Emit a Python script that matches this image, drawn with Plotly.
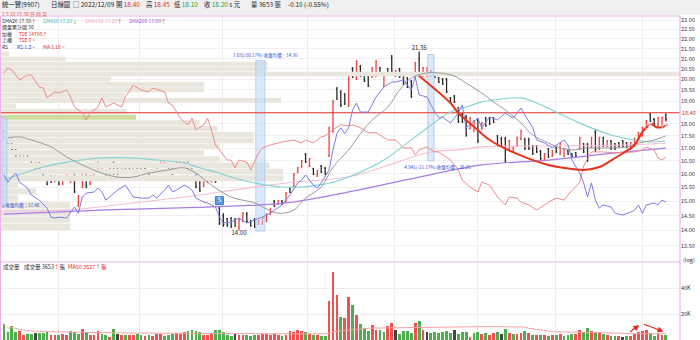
import math
import pandas as pd
import plotly.graph_objects as go

# ---------------- data ----------------
opens = [17.70,17.25,17.20,17.05,16.58,16.65,16.80,16.60,16.10,16.40,16.10,15.85,15.90,15.72,15.80,15.62,15.80,15.68,16.10,14.85,
         15.50,16.02,15.62,15.88,16.08,16.18,16.04,15.98,16.45,16.22,16.05,16.24,16.32,16.18,16.32,16.30,16.20,16.08,16.01,16.10,
         16.37,16.38,16.40,16.22,16.28,16.36,16.38,16.55,16.22,16.02,15.80,15.54,15.68,15.71,15.85,
         14.75,14.50,14.38,14.40,14.35,14.08,14.32,14.55,14.32,14.38,14.20,14.22,14.32,14.55,15.00,14.89,15.00,15.00,15.48,15.55,
         16.05,16.26,16.75,16.30,16.20,15.92,16.30,16.22,16.70,17.70,19.55,19.40,19.30,18.80,20.50,20.05,20.60,20.25,20.15,20.10,
         20.15,20.55,19.70,20.50,21.05,20.15,20.50,20.25,20.05,19.90,20.10,21.00,20.15,20.15,20.15,20.28,20.08,20.02,20.00,
         19.15,19.22,18.68,18.42,18.30,17.80,17.70,18.15,17.78,18.25,18.25,18.26,17.50,17.40,17.38,16.97,16.84,17.08,17.38,17.38,
         17.35,17.10,17.08,16.88,16.56,16.96,16.68,17.02,16.77,16.68,16.90,16.78,16.82,16.97,17.18,17.15,17.05,17.65,16.97,17.42,
         17.08,17.30,17.18,17.22,17.30,17.22,16.97,17.08,17.36,17.50,17.78,18.42,18.20,17.92,17.90,18.40]
highs = [17.79,17.29,17.25,17.13,16.81,16.85,16.85,16.65,16.45,16.45,16.15,15.88,15.96,15.96,15.85,15.85,16.15,15.85,16.15,15.22,
         16.15,16.07,15.96,16.07,16.53,16.42,16.07,16.23,16.53,16.26,16.23,16.26,16.34,16.42,16.34,16.34,16.23,16.11,16.11,16.42,
         16.61,16.57,16.42,16.26,16.45,16.53,16.53,16.61,16.26,16.07,15.88,15.77,15.85,15.88,15.88,
         14.80,14.58,14.42,14.45,14.42,14.42,14.62,14.62,14.35,14.42,14.35,14.45,14.58,14.76,15.04,15.04,15.04,15.33,15.51,16.03,
         16.26,16.53,16.81,16.61,16.23,16.15,16.34,16.26,17.88,19.05,19.64,19.50,19.36,20.30,20.59,20.93,20.69,20.30,20.20,20.59,
         20.93,20.59,20.20,20.54,21.18,20.44,20.54,20.30,20.11,19.97,20.83,21.35,20.59,20.59,20.44,20.30,20.11,20.06,20.06,
         19.18,19.27,18.73,18.47,18.38,18.30,18.17,18.25,18.08,18.30,18.30,18.30,17.54,17.46,17.46,17.33,17.05,17.46,17.75,17.42,
         17.42,17.13,17.13,16.93,16.81,17.01,16.93,17.05,17.21,17.01,16.93,16.81,16.85,17.46,17.21,17.21,17.46,17.75,17.46,17.46,
         17.33,17.33,17.21,17.25,17.33,17.25,17.25,17.42,17.67,17.88,18.17,18.47,18.25,18.30,18.30,18.45]
lows = [17.21,16.97,16.89,16.61,16.53,16.61,16.53,16.34,16.03,16.03,15.88,15.58,15.66,15.69,15.58,15.58,15.77,15.66,15.29,14.80,
        15.47,15.47,15.58,15.85,16.03,16.15,15.85,15.96,15.96,15.96,16.03,16.07,16.15,16.15,16.15,16.03,16.07,15.96,16.00,16.07,
        16.34,16.34,16.19,15.96,16.26,16.34,16.34,16.15,16.03,15.47,15.33,15.51,15.66,15.69,15.66,
        14.18,14.12,14.12,14.08,14.12,14.00,14.28,14.25,14.12,14.08,14.18,14.18,14.28,14.52,14.80,14.87,14.87,14.97,15.29,15.51,
        16.03,16.23,16.42,16.26,15.96,15.88,16.03,15.96,16.65,17.63,19.05,18.73,18.82,18.73,20.06,19.97,20.11,19.87,19.64,20.06,
        20.11,20.20,19.64,20.20,20.30,20.11,20.06,19.73,19.59,19.14,20.06,20.11,20.11,20.11,20.11,20.06,19.82,19.73,19.36,
        18.91,18.91,18.04,18.04,17.46,17.75,17.67,17.21,17.75,17.88,17.96,18.04,17.05,17.05,16.42,16.93,16.81,17.05,17.33,16.93,
        16.93,16.73,16.81,16.53,16.53,16.61,16.65,16.81,16.73,16.65,16.73,16.61,16.65,16.93,16.81,16.45,17.01,16.85,16.93,17.05,
        17.05,16.93,16.93,17.05,17.05,17.01,16.93,17.05,17.33,17.46,17.75,18.08,17.96,17.88,17.84,18.10]
closes = [17.35,17.02,16.95,16.70,16.77,16.80,16.58,16.40,16.40,16.08,15.92,15.62,15.70,15.92,15.62,15.80,16.10,15.82,15.35,15.18,
          16.10,15.52,15.92,16.04,16.48,16.38,15.88,16.20,16.00,16.00,16.20,16.10,16.18,16.40,16.18,16.06,16.09,15.98,16.09,16.38,
          16.58,16.55,16.22,16.00,16.43,16.50,16.52,16.20,16.06,15.52,15.38,15.74,15.82,15.86,15.70,
          14.25,14.20,14.18,14.15,14.15,14.35,14.58,14.30,14.15,14.12,14.32,14.42,14.55,14.73,14.84,15.02,14.90,15.30,15.32,16.00,
          16.24,16.50,16.46,16.58,16.00,16.12,16.06,16.00,17.85,19.00,19.10,18.80,18.88,20.25,20.10,20.85,20.15,19.92,19.70,20.55,
          20.85,20.25,20.15,20.25,20.40,20.40,20.10,19.80,19.65,19.20,20.78,20.20,20.55,20.55,20.40,20.10,19.86,19.78,19.42,
          18.95,18.95,18.10,18.08,17.55,18.25,18.12,17.30,18.05,17.92,18.00,18.08,17.10,17.10,16.50,17.30,17.02,17.42,17.70,16.98,
          17.00,16.78,16.85,16.58,16.78,16.65,16.90,16.85,17.18,16.98,16.76,16.65,16.68,17.42,16.85,16.55,17.42,16.95,17.42,17.10,
          17.30,16.98,16.97,17.08,17.08,17.04,17.22,17.38,17.63,17.85,18.13,18.12,18.00,18.26,18.30,18.20]
volumes = [12000,6000,10800,6000,7000,3800,4600,4600,5600,5600,5600,5900,3800,3800,3800,4600,3800,7000,5900,4600,
           8500,5900,3800,3800,7000,4600,3800,2600,8200,4600,4000,3500,3500,3500,4500,4000,3000,3500,3000,5000,
           5000,3000,4000,5000,5500,5000,6000,7000,7500,7000,6000,4000,3500,4500,7500,
           8000,6000,4000,3000,4500,3500,3500,3500,3000,3500,4000,4500,5000,4000,4500,3500,3000,4000,7000,6000,
           8000,7000,6500,5000,3500,4000,3000,3000,30000,52000,35000,18000,17000,33000,27000,19000,12000,9500,7000,11500,
           7700,7700,6500,11000,13000,7700,4400,7000,7000,5600,13000,14600,8000,5900,5100,6400,5100,6400,6900,
           5100,7700,4400,5900,6400,2600,5100,6400,4400,5100,3800,5100,6400,4400,8500,5100,4400,4400,5100,6900,
           5100,3800,3800,3800,3800,3300,3800,3800,4400,3300,3800,4400,4400,7700,5900,9500,6900,5900,5100,4400,
           3800,3300,3100,2800,2600,2800,3100,4400,5900,6900,7700,5100,3300,5100,3800,3653]

# moving averages (bar index, price)
sma20_x = [1,4,7,12,16,20,25,29,33,37,42,46,49,53,58,64,66,70,74,77,81,84,88,91,94,98,101,104,108,111,115,118,122,125,128,132,135,139,142,145,149,152,155,159,162,166,169]
sma20_y = [17.42,17.46,17.33,17.05,16.65,16.34,16.03,15.88,15.88,16.03,16.15,16.23,16.03,15.58,15.15,14.94,14.80,14.58,14.69,15.11,15.51,16.26,16.93,17.59,18.17,18.73,19.50,20.06,20.30,20.30,20.15,19.82,19.36,18.96,18.60,18.04,17.54,17.21,17.01,16.93,17.01,17.01,17.01,17.05,17.21,17.33,17.50]
sma50_x = [0,10,16,25,33,39,46,50,54,58,63,67,71,76,80,84,88,97,105,114,118,122,127,132,136,141,148,155,161,165,169]
sma50_y = [15.77,16.26,16.45,16.61,16.61,16.53,16.42,16.23,16.07,15.88,15.69,15.58,15.51,15.51,15.58,15.69,15.88,16.53,17.46,18.51,18.73,18.96,19.09,19.14,18.91,18.51,17.96,17.54,17.33,17.25,17.29]
sma150_x = [0,16,33,50,55,72,89,109,116,122,139,156,169]
sma150_y = [14.66,14.69,14.94,15.22,15.33,15.66,15.92,16.85,16.93,17.05,17.09,17.12,17.20]
sma200_x = [0,25,53,72,89,106,122,139,156,169]
sma200_y = [14.55,14.69,14.80,14.94,15.36,15.88,16.34,16.53,16.81,17.00]

# TSE index overlay (red) and RS line (blue), plotted on the price scale
tse_x = [0,1,2,4,6,7,9,10,11,13,14,16,17,18,20,21,22,24,25,26,28,30,31,33,35,37,38,41,42,43,45,47,48,49,51,52,53,54,56,57,58,59,60,62,63,65,66,68,70,71,74,76,77,79,81,82,84,86,88,89,91,93,95,98,100,102,104,105,106,108,110,111,114,116,117,119,121,122,124,126,128,129,131,132,134,136,138,139,141,143,144,146,147,148,150,153,156,161,163,164,166,167,168,169]
tse_y = [20.30,20.54,20.44,19.97,20.20,20.20,19.64,19.59,19.14,19.41,19.36,19.50,19.18,18.73,18.47,18.17,18.47,18.73,19.14,18.73,18.91,18.73,19.18,19.73,19.50,19.41,19.59,19.41,18.91,18.82,18.25,17.96,18.25,17.75,17.96,18.25,17.71,17.13,16.73,16.53,16.53,16.23,16.53,16.45,16.15,16.81,17.01,17.13,17.21,17.25,17.33,17.21,17.33,17.21,17.46,17.50,17.75,17.96,17.92,17.96,17.84,17.63,17.63,17.33,17.33,17.01,17.01,16.73,16.93,17.05,16.85,16.85,16.53,16.15,15.77,15.51,15.33,15.69,15.58,15.15,14.87,15.15,15.11,14.97,14.87,14.69,14.87,14.97,15.11,15.04,15.22,15.51,15.69,16.30,16.85,16.85,16.81,16.85,16.93,17.05,16.93,16.61,16.53,16.65]
rs_x = [0,1,2,3,4,6,7,9,11,12,13,14,16,17,18,19,20,21,23,24,25,26,28,29,31,33,35,37,38,39,41,42,43,44,46,47,48,49,51,52,53,54,55,56,58,60,62,64,66,68,70,71,73,75,76,77,79,80,81,83,84,85,86,87,88,89,90,91,93,94,95,97,99,100,102,104,105,106,108,109,111,112,114,116,117,118,121,122,124,126,128,130,132,133,135,136,138,140,143,144,145,147,148,149,150,151,152,153,155,156,158,160,161,162,163,164,166,167,168,169]
rs_y = [15.96,15.69,15.88,16.03,15.69,15.47,15.22,15.04,14.76,14.45,14.42,14.45,14.42,14.62,14.80,14.58,15.15,15.29,15.33,15.47,15.33,15.04,15.29,15.40,15.58,15.15,15.11,15.11,15.22,15.11,15.40,15.58,15.33,15.40,15.58,15.51,15.40,15.11,14.97,14.94,14.87,14.80,14.45,14.25,14.28,14.42,14.25,14.35,14.45,14.58,14.76,14.87,15.22,15.66,15.77,15.96,15.58,15.47,15.66,16.15,16.93,17.59,17.84,17.59,17.84,18.60,18.91,18.51,18.51,18.82,19.18,19.64,19.87,19.87,19.97,19.50,20.10,19.27,19.18,18.82,18.25,18.30,18.04,18.47,18.82,17.84,18.25,17.84,18.30,18.17,18.47,18.25,18.69,18.38,17.84,17.33,17.21,17.01,17.33,17.13,16.53,16.03,15.66,15.15,15.66,15.04,14.76,14.87,14.80,14.58,14.52,14.62,14.69,14.87,14.58,14.87,14.94,14.87,15.04,14.97]

# volume-by-price profile (30 bins from 14.00 to 21.35), thousand lots
profile_lo, profile_hi = 14.00, 21.35
profile_vol = [31,31,31,31,8,16,8,125,125,119,97,90,97,112,112,96,88,60,56,7,124,55,90,90,49,300,118,118,29,4]
profile_current_bin = 17

# cup pattern drawing (bar index, price)
cup_x = [106,114,116,120,124,131,139,148,152,156,161,163,165]
cup_y = [20.15,18.91,18.47,17.88,17.33,16.77,16.34,16.15,16.26,16.61,17.13,17.67,18.02]
hook_x = [165.3,166.6,168.0,169.4]
hook_y = [18.02,17.86,17.86,17.98]

price_ticks = [13.5,14.0,14.5,15.0,15.5,16.0,16.5,17.0,17.5,18.0,18.5,19.0,19.5,20.0,20.5,21.0,21.5,22.0,22.5,23.0]
month_lines = [13.8,34.7,55.9,77.6,99.8,120.8,140.9,163.1]
resist_price = 18.48

# ---------------- layout constants ----------------
W, H = 700, 340
FONT = "Noto Sans CJK TC, Noto Sans, sans-serif"
PLOT_R = 680
MAIN_TOP, MAIN_BOT = 16, 262
XMIN, XMAX = -1.02, 172.6
idx = list(range(len(closes)))

def py(p):
    return 1 - p / H

fig = go.Figure()

# volume profile
step = (profile_hi - profile_lo) / len(profile_vol)
pmax = max(profile_vol)
gx, gy, hx, hy = [], [], [], []
for k, v in enumerate(profile_vol):
    lo = profile_lo + k * step + 0.012
    hi = profile_lo + (k + 1) * step - 0.012
    x1 = XMIN + v / pmax * (XMAX - XMIN)
    xs = [XMIN, x1, x1, XMIN, XMIN, None]
    ys = [lo, lo, hi, hi, lo, None]
    if k == profile_current_bin:
        hx += xs; hy += ys
    else:
        gx += xs; gy += ys
fig.add_trace(go.Scatter(x=gx, y=gy, fill='toself', fillcolor='#e9e6de', line=dict(width=0), mode='lines', hoverinfo='skip'))
fig.add_trace(go.Scatter(x=hx, y=hy, fill='toself', fillcolor='#cddc9c', line=dict(width=0), mode='lines', hoverinfo='skip'))

# measurement bands
bands = [(-0.5, 0.75, 14.82, 18.25), (64.3, 66.6, 13.98, 20.90), (108.2, 109.8, 16.50, 21.20)]
for x0, x1, lo, hi in bands:
    fig.add_trace(go.Scatter(x=[x0, x1, x1, x0, x0], y=[lo, lo, hi, hi, lo], fill='toself',
                             fillcolor='rgba(190,215,245,0.55)', line=dict(width=0.8, color='#a9c8ee'),
                             mode='lines', hoverinfo='skip'))

# resistance line
fig.add_trace(go.Scatter(x=[XMIN, XMAX], y=[resist_price, resist_price], mode='lines',
                         line=dict(color='#e8302a', width=1), hoverinfo='skip'))

# moving averages
fig.add_trace(go.Scatter(x=sma200_x, y=sma200_y, mode='lines', line=dict(color='#a77ce6', width=1.2, shape='spline')))
fig.add_trace(go.Scatter(x=sma150_x, y=sma150_y, mode='lines', line=dict(color='#f4bdd6', width=1.1, shape='spline')))
fig.add_trace(go.Scatter(x=sma50_x, y=sma50_y, mode='lines', line=dict(color='#7fd3d3', width=1.1, shape='spline')))
fig.add_trace(go.Scatter(x=sma20_x, y=sma20_y, mode='lines', line=dict(color='#9a9a9a', width=1.0, shape='spline')))

# TSE and RS overlays
fig.add_trace(go.Scatter(x=tse_x, y=tse_y, mode='lines', line=dict(color='#f08a8a', width=1)))
fig.add_trace(go.Scatter(x=rs_x, y=rs_y, mode='lines', line=dict(color='#7b7be6', width=1)))

# price bars
fig.add_trace(go.Ohlc(x=idx, open=opens, high=highs, low=lows, close=closes,
                      increasing=dict(line=dict(color='#ef4343', width=1.3)),
                      decreasing=dict(line=dict(color='#2a2a2a', width=1.3)),
                      tickwidth=0.25, hoverinfo='skip'))

# cup drawing
fig.add_trace(go.Scatter(x=cup_x, y=cup_y, mode='lines+markers',
                         line=dict(color='#e8321e', width=2, shape='spline', smoothing=0.8),
                         marker=dict(symbol='arrow', angleref='previous', color='#e8321e',
                                     size=[0] * (len(cup_x) - 1) + [7])))
fig.add_trace(go.Scatter(x=hook_x, y=hook_y, mode='lines+markers',
                         line=dict(color='#e8321e', width=2, shape='spline'),
                         marker=dict(symbol='arrow', angleref='previous', color='#e8321e',
                                     size=[0] * (len(hook_x) - 1) + [6])))

# high / low labels and ex-dividend badge
hi_i = max(idx, key=lambda i: highs[i])
lo_i = min(idx, key=lambda i: lows[i])
fig.add_trace(go.Scatter(x=[hi_i], y=[highs[hi_i]], mode='text', text=[f"{highs[hi_i]:.2f}"],
                         textposition='top center', textfont=dict(size=6, color='#222', family=FONT)))
fig.add_trace(go.Scatter(x=[lo_i], y=[lows[lo_i]], mode='text', text=[f"{lows[lo_i]:.2f}"],
                         textposition='bottom center', textfont=dict(size=6, color='#222', family=FONT)))
fig.add_trace(go.Scatter(x=[55], y=[15.02], mode='markers+text', text=['S'], textposition='middle center',
                         marker=dict(symbol='square', size=8, color='#5b9ee0', line=dict(width=1, color='#3a7cc8')),
                         textfont=dict(size=6, color='white', family=FONT)))

# volume
vcolors = []
for i, c in enumerate(closes):
    prev = closes[i - 1] if i > 0 else opens[0]
    vcolors.append('#f05050' if c > prev else ('#4cae4c' if c < prev else '#444444'))
fig.add_trace(go.Bar(x=idx, y=volumes, marker=dict(color=vcolors, line=dict(width=0)), width=0.72,
                     xaxis='x2', yaxis='y2', hoverinfo='skip'))
vma = pd.Series(volumes).rolling(50, min_periods=1).mean()
fig.add_trace(go.Scatter(x=idx, y=vma, mode='lines', line=dict(color='#f5a3a3', width=1),
                         xaxis='x2', yaxis='y2', hoverinfo='skip'))

# ---------------- axes ----------------
xdom = [0, PLOT_R / W]
main_dom = [py(MAIN_BOT), py(MAIN_TOP)]
vol_dom = [0, py(MAIN_BOT)]
top_price = 23 * math.exp(4 / 424)
bot_price = 23 * math.exp(-242 / 424)

fig.update_layout(
    width=W, height=H, margin=dict(l=0, r=0, t=0, b=0),
    paper_bgcolor='white', plot_bgcolor='white', showlegend=False,
    font=dict(family=FONT, size=6, color='#333'),
    xaxis=dict(domain=xdom, range=[XMIN, XMAX], tickvals=month_lines, showticklabels=False,
               showgrid=True, gridcolor='#ececec', gridwidth=1, zeroline=False, ticks='',
               rangeslider=dict(visible=False), anchor='y'),
    yaxis=dict(domain=main_dom, type='log', range=[math.log10(bot_price), math.log10(top_price)],
               side='right', tickvals=price_ticks, ticktext=[f"{v:.2f}" for v in price_ticks],
               showgrid=True, gridcolor='#f0f0f0', zeroline=False, ticks='',
               tickfont=dict(size=5.5, color='#333'), anchor='x'),
    xaxis2=dict(domain=xdom, range=[XMIN, XMAX], matches='x', tickvals=month_lines, showticklabels=False,
                showgrid=True, gridcolor='#ececec', zeroline=False, ticks='', anchor='y2'),
    yaxis2=dict(domain=vol_dom, range=[0, 60000], side='right', tickvals=[20000, 40000],
                ticktext=['20K', '40K'], showgrid=True, gridcolor='#eeeeee', zeroline=False, ticks='',
                tickfont=dict(size=5.5, color='#333'), anchor='x2'),
    bargap=0,
)

shapes = []
shapes.append(dict(type='rect', xref='paper', yref='paper', x0=0, x1=1, y0=py(15), y1=1,
                   fillcolor='#f0f0f0', line=dict(width=0), layer='below'))
pink = '#e9b3e9'
shapes.append(dict(type='line', xref='paper', yref='paper', x0=0, x1=PLOT_R / W, y0=py(MAIN_TOP), y1=py(MAIN_TOP), line=dict(color=pink, width=1.2)))
shapes.append(dict(type='line', xref='paper', yref='paper', x0=0, x1=PLOT_R / W, y0=py(MAIN_BOT), y1=py(MAIN_BOT), line=dict(color=pink, width=1.2)))
shapes.append(dict(type='line', xref='paper', yref='paper', x0=PLOT_R / W, x1=PLOT_R / W, y0=0, y1=py(MAIN_TOP), line=dict(color=pink, width=1.2)))
shapes.append(dict(type='line', xref='paper', yref='paper', x0=0.5 / W, x1=0.5 / W, y0=0, y1=py(MAIN_TOP), line=dict(color=pink, width=1)))
fig.update_layout(shapes=shapes)

ann = []
def txt(px, pyy, s, color='#333', size=6, anchor='left', yanchor='middle'):
    ann.append(dict(x=px / W, y=py(pyy), xref='paper', yref='paper', text=s, showarrow=False, align='left',
                    font=dict(size=size, color=color, family=FONT), xanchor=anchor, yanchor=yanchor, borderpad=0))

RED, GRN = '#e8251f', '#1e9e2e'
def sp(s, c):
    return f'<span style="color:{c}">{s}</span>'
NB = '&nbsp;'

# header
HF = 6.4
txt(1, 4.6, '統一實(9907)', '#222', HF)
txt(50, 4.6, '日線圖', '#222', HF)
txt(72, 4.6, '□ 2022/12/09', '#222', HF)
txt(115, 4.6, '開 ' + sp('18.40', RED), '#222', HF)
txt(145, 4.6, '高 ' + sp('18.45', RED), '#222', HF)
txt(173, 4.6, '低 ' + sp('18.10', GRN), '#222', HF)
txt(203, 4.6, '收 ' + sp('18.20', GRN) + ' s 元', '#222', HF)
txt(250, 4.6, '量 3653 張', '#222', HF)
txt(287, 4.6, '-0.10 (-0.55%)', '#222', HF)

# legend block (one multi-line text)
legend_lines = [
    sp('1 5 10 15 30 日 周 月', '#e65a5a'),
    'SMA20 17.50' + sp('↑', RED) + NB * 6 + sp('SMA50 17.29', '#3cbcbc') + sp('↓', GRN) + NB * 7
    + sp('SMA150 17.20', '#f0a0c8') + sp('↑', RED) + NB * 6 + sp('SMA200 17.00', '#9a4de0') + sp('↑', RED),
    '價量累計圖 30',
    '加權' + NB * 6 + sp('TSE 14705↑', RED),
    '上櫃' + NB * 6 + sp('TSE 0 =', RED),
    'RS' + NB * 8 + sp('RS 1.2 =', '#3a3ae0') + NB * 7 + sp('MA 1.18 =', RED),
]
txt(1, 8.6, '<br>'.join(legend_lines), '#333', 5, yanchor='top')

# band captions
txt(232, 56, '7.03$(50.17%) 收盤均價：14.36', '#2a50d0', 4.5)
txt(402, 167, '-4.94$(-21.17%) 收盤均價：20.25', '#2a50d0', 4.5)
txt(0, 205, '↓收盤均價：17.48', '#2a50d0', 4.5)
# axis extras
txt(682, 260, '(log)', '#333', 5.5)
ann.append(dict(x=(PLOT_R + 1) / W, y=math.log10(resist_price), xref='paper', yref='y', text=f'{resist_price:.2f}',
                showarrow=False, font=dict(size=5.5, color=RED, family=FONT), xanchor='left', yanchor='middle',
                bgcolor='white', borderpad=0))
# volume panel labels
txt(2, 266.5, '成交量', '#333', 5.5)
txt(23, 266.5, '成交量 3653' + sp('↑', RED) + '張', '#333', 5.5)
txt(67, 266.5, 'MA50 3527' + sp('↑', GRN) + '張', RED, 5.5)
# volume arrows
ann.append(dict(x=162.2, y=11500, ax=159.5, ay=5500, xref='x2', yref='y2', axref='x2', ayref='y2',
                showarrow=True, arrowhead=2, arrowsize=1, arrowwidth=1.2, arrowcolor=RED, text=''))
ann.append(dict(x=168.4, y=6500, ax=163.0, ay=12500, xref='x2', yref='y2', axref='x2', ayref='y2',
                showarrow=True, arrowhead=2, arrowsize=1, arrowwidth=1.2, arrowcolor=RED, text=''))
fig.update_layout(annotations=ann)

fig.write_html("out.html")
